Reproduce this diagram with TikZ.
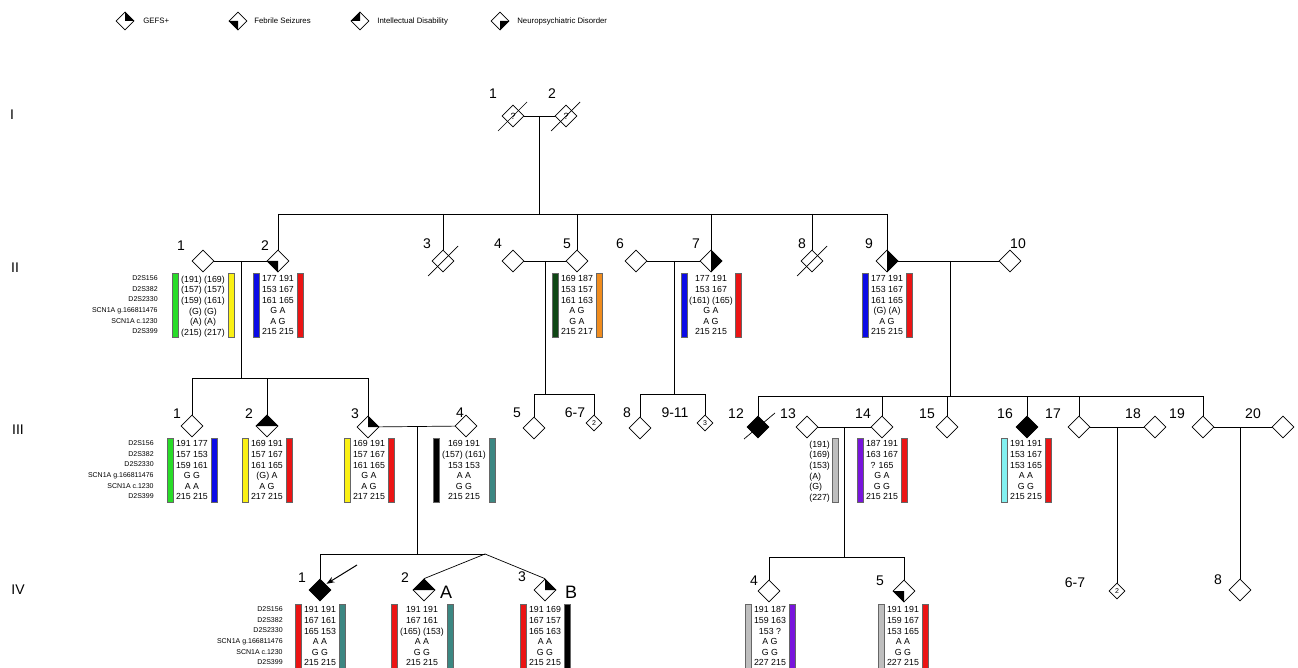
\documentclass[tikz,border=0pt]{standalone}
\usepackage{fontspec}
\setmainfont{Liberation Sans}
\usepackage{tikz}
\usetikzlibrary{shapes.geometric,arrows.meta,calc}

\definecolor{bgreen}{RGB}{40,220,40}
\definecolor{byellow}{RGB}{250,240,20}
\definecolor{bblue}{RGB}{10,10,230}
\definecolor{bred}{RGB}{235,20,20}
\definecolor{bdgreen}{RGB}{15,70,20}
\definecolor{borange}{RGB}{240,140,30}
\definecolor{bteal}{RGB}{60,135,130}
\definecolor{bgray}{RGB}{190,190,190}
\definecolor{bpurple}{RGB}{120,20,220}
\definecolor{bcyan}{RGB}{130,240,240}

\tikzset{
  ind/.style={draw, diamond, shape aspect=1, minimum size=22pt, inner sep=0pt, line width=0.7pt, fill=white},
  sml/.style={ind, minimum size=16pt, font=\fontsize{7}{8}\selectfont},
  leg/.style={ind, minimum size=18pt},
  aff/.style={fill=black},
  num/.style={font=\fontsize{14}{16}\selectfont, inner sep=0pt},
  gen/.style={font=\fontsize{14}{16}\selectfont, inner sep=0pt},
  legtxt/.style={font=\fontsize{7.8}{9}\selectfont, inner sep=0pt, anchor=west},
  hap/.style={font=\fontsize{8.8}{10.6}\selectfont, inner sep=0pt, anchor=north, align=center},
  mrk/.style={font=\fontsize{7}{10.6}\selectfont, inner sep=0pt, anchor=north east, align=right},
  bar/.style={draw=black!60, line width=0.3pt},
  dead/.style={line width=0.7pt}
}

% quadrant fills of a diamond: upper right, lower left, upper left, lower right
\newcommand{\gefs}[1]{\fill (#1.north) -- (#1.east) -- (#1.center) -- cycle;}
\newcommand{\febs}[1]{\fill (#1.south) -- (#1.west) -- (#1.center) -- cycle;}
\newcommand{\intd}[1]{\fill (#1.north) -- (#1.west) -- (#1.center) -- cycle;}
\newcommand{\neud}[1]{\fill (#1.south) -- (#1.east) -- (#1.center) -- cycle;}

% name, x, top, half width, left colour, right colour, rows
\newcommand{\hapl}[7]{%
  \filldraw[bar, fill=#5] (#2-#4-3.25,#3) rectangle (#2-#4+3.25,#3+64);
  \filldraw[bar, fill=#6] (#2+#4-3.25,#3) rectangle (#2+#4+3.25,#3+64);
  \node[hap] (#1) at (#2,#3+2.5) {#7};
}
\newcommand{\mrknames}{D2S156\\D2S382\\D2S2330\\SCN1A g.166811476\\SCN1A c.1230\\D2S399}

\begin{document}
\begin{tikzpicture}[x=1pt,y=-1pt,line width=0.7pt]
\useasboundingbox[fill=white] (0,0) rectangle (1298,668);

% legend
\node[leg] (lg1) at (125,21) {};
\node[legtxt] (lt1) at (143,21) {GEFS+};
\node[leg] (lg2) at (238,21) {};
\node[legtxt] (lt2) at (254,21) {Febrile Seizures};
\node[leg] (lg3) at (360,21) {};
\node[legtxt] (lt3) at (377,21) {Intellectual Disability};
\node[leg] (lg4) at (500,21) {};
\node[legtxt] (lt4) at (517,21) {Neuropsychiatric Disorder};
\gefs{lg1}
\febs{lg2}
\intd{lg3}
\neud{lg4}

% generations
\node[gen] (gI) at (12,115) {I};
\node[gen] (gII) at (15,268) {II};
\node[gen] (gIII) at (18,430) {III};
\node[gen] (gIV) at (18,590) {IV};

% generation I
\node[ind, font=\fontsize{9}{10}\selectfont] (I1) at (513,116) {?};
\node[ind, font=\fontsize{9}{10}\selectfont] (I2) at (566,116) {?};
\node[num] (nI1) at (493,94) {1};
\node[num] (nI2) at (552,94) {2};
\draw[dead] ([shift={(-15,15)}]I1.center) -- ([shift={(14,-14)}]I1.center);
\draw[dead] ([shift={(-15,15)}]I2.center) -- ([shift={(14,-14)}]I2.center);
\draw (I1) -- (I2);
\coordinate (mI) at (539,116);
\coordinate (sII) at (539,214);
\draw (mI) -- (sII);

% generation II
\node[ind] (II1) at (203,261) {};
\node[ind] (II2) at (278,261) {};
\node[ind] (II3) at (443,261) {};
\node[ind] (II4) at (513,261) {};
\node[ind] (II5) at (577,261) {};
\node[ind] (II6) at (636,261) {};
\node[ind] (II7) at (711,261) {};
\node[ind] (II8) at (812,261) {};
\node[ind] (II9) at (887,261) {};
\node[ind] (II10) at (1010,261) {};
\febs{II2}
\gefs{II7}
\neud{II7}
\gefs{II9}
\neud{II9}
\draw[dead] ([shift={(-15,15)}]II3.center) -- ([shift={(15,-15)}]II3.center);
\draw[dead] ([shift={(-15,15)}]II8.center) -- ([shift={(15,-15)}]II8.center);
\node[num] (nII1) at (181,246) {1};
\node[num] (nII2) at (265,246) {2};
\node[num] (nII3) at (427,244) {3};
\node[num] (nII4) at (498,244) {4};
\node[num] (nII5) at (567,244) {5};
\node[num] (nII6) at (620,244) {6};
\node[num] (nII7) at (696,244) {7};
\node[num] (nII8) at (802,244) {8};
\node[num] (nII9) at (869,244) {9};
\node[num] (nII10) at (1018,244) {10};

\draw (II2 |- sII) -- (II9 |- sII);
\draw (II2 |- sII) -- (II2);
\draw (II3 |- sII) -- (II3);
\draw (II5 |- sII) -- (II5);
\draw (II7 |- sII) -- (II7);
\draw (II8 |- sII) -- (II8);
\draw (II9 |- sII) -- (II9);
\draw (II1) -- (II2);
\draw (II4) -- (II5);
\draw (II6) -- (II7);
\draw (II9) -- (II10);

\node[mrk] (mk1) at (158,275.5) {\mrknames};
\hapl{hII1}{203}{273}{28}{bgreen}{byellow}{(191) (169)\\(157) (157)\\(159) (161)\\(G) (G)\\(A) (A)\\(215) (217)}
\hapl{hII2}{278}{273}{22}{bblue}{bred}{177 191\\153 167\\161 165\\G A\\A G\\215 215}
\hapl{hII5}{577}{273}{22}{bdgreen}{borange}{169 187\\153 157\\161 163\\A G\\G A\\215 217}
\hapl{hII7}{711}{273}{27}{bblue}{bred}{177 191\\153 167\\(161) (165)\\G A\\A G\\215 215}
\hapl{hII9}{887}{273}{22}{bblue}{bred}{177 191\\153 167\\161 165\\(G) (A)\\A G\\215 215}

% generation III
\coordinate (mIIa) at (241,261);
\coordinate (sIIIa) at (241,378);
\coordinate (mIIb) at (545,261);
\coordinate (sIIIb) at (545,394);
\coordinate (mIIc) at (674,261);
\coordinate (sIIIc) at (674,394);
\coordinate (mIId) at (950,261);
\coordinate (sIIId) at (950,396);
\draw (mIIa) -- (sIIIa);
\draw (mIIb) -- (sIIIb);
\draw (mIIc) -- (sIIIc);
\draw (mIId) -- (sIIId);

\node[ind] (III1) at (192,426) {};
\node[ind] (III2) at (267,426) {};
\node[ind] (III3) at (368,427) {};
\node[ind] (III4) at (466,426) {};
\node[ind] (III5) at (534,428) {};
\node[sml] (III67) at (594,423) {2};
\node[ind] (III8) at (640,428) {};
\node[sml] (III911) at (705,423) {3};
\node[ind, aff] (III12) at (758,427) {};
\node[ind] (III13) at (807,427) {};
\node[ind] (III14) at (882,427) {};
\node[ind] (III15) at (947,427) {};
\node[ind, aff] (III16) at (1027,427) {};
\node[ind] (III17) at (1079,427) {};
\node[ind] (III18) at (1155,427) {};
\node[ind] (III19) at (1203,427) {};
\node[ind] (III20) at (1283,427) {};
\gefs{III2}
\intd{III2}
\gefs{III3}
\draw[dead] ([shift={(-14,12)}]III12.center) -- ([shift={(17,-14)}]III12.center);

\node[num] (nIII1) at (177,414) {1};
\node[num] (nIII2) at (249,414) {2};
\node[num] (nIII3) at (355,414) {3};
\node[num] (nIII4) at (460,413) {4};
\node[num] (nIII5) at (517,413) {5};
\node[num] (nIII67) at (575,413) {6-7};
\node[num] (nIII8) at (627,413) {8};
\node[num] (nIII911) at (675,413) {9-11};
\node[num] (nIII12) at (736,414) {12};
\node[num] (nIII13) at (788,414) {13};
\node[num] (nIII14) at (863,414) {14};
\node[num] (nIII15) at (927,414) {15};
\node[num] (nIII16) at (1005,414) {16};
\node[num] (nIII17) at (1053,414) {17};
\node[num] (nIII18) at (1133,414) {18};
\node[num] (nIII19) at (1177,414) {19};
\node[num] (nIII20) at (1253,414) {20};

\draw (III1 |- sIIIa) -- (III3 |- sIIIa);
\draw (III1 |- sIIIa) -- (III1);
\draw (III2 |- sIIIa) -- (III2);
\draw (III3 |- sIIIa) -- (III3);
\draw (III5 |- sIIIb) -- (III67 |- sIIIb);
\draw (III5 |- sIIIb) -- (III5);
\draw (III67 |- sIIIb) -- (III67);
\draw (III8 |- sIIIc) -- (III911 |- sIIIc);
\draw (III8 |- sIIIc) -- (III8);
\draw (III911 |- sIIIc) -- (III911);
\draw (III12 |- sIIId) -- (III19 |- sIIId);
\draw (III12 |- sIIId) -- (III12);
\draw (III14 |- sIIId) -- (III14);
\draw (III15 |- sIIId) -- (III15);
\draw (III16 |- sIIId) -- (III16);
\draw (III17 |- sIIId) -- (III17);
\draw (III19 |- sIIId) -- (III19);
\draw (III3) -- (III4);
\draw (III13) -- (III14);
\draw (III17) -- (III18);
\draw (III19) -- (III20);

\node[mrk] (mk2) at (154,440.5) {\mrknames};
\hapl{hIII1}{192}{438}{22}{bgreen}{bblue}{191 177\\157 153\\159 161\\G G\\A A\\215 215}
\hapl{hIII2}{267}{438}{22}{byellow}{bred}{169 191\\157 167\\161 165\\(G) A\\A G\\217 215}
\hapl{hIII3}{369}{438}{22}{byellow}{bred}{169 191\\157 167\\161 165\\G A\\A G\\217 215}
\hapl{hIII4}{464}{438}{28}{black}{bteal}{169 191\\(157) (161)\\153 153\\A A\\G G\\215 215}
\filldraw[bar, fill=bgray] (831.75,438) rectangle (838.25,502);
\node[hap, align=left, anchor=north west] (hIII13) at (809,440.5) {(191)\\(169)\\(153)\\(A)\\(G)\\(227)};
\hapl{hIII14}{882}{438}{22}{bpurple}{bred}{187 191\\163 167\\? 165\\G A\\G G\\215 215}
\hapl{hIII16}{1026}{438}{22}{bcyan}{bred}{191 191\\153 167\\153 165\\A A\\G G\\215 215}

% generation IV
\coordinate (mIIIa) at (417,427);
\coordinate (sIVa) at (417,554);
\coordinate (tw) at (485,554);
\coordinate (mIIIb) at (844,427);
\coordinate (sIVb) at (844,557);
\coordinate (mIIIc) at (1117,427);
\coordinate (mIIId) at (1240,427);
\coordinate (arr) at (357,565);

\node[ind, aff] (IV1) at (320,590) {};
\node[ind] (IV2) at (424,590) {};
\node[ind] (IV3) at (545,590) {};
\node[ind] (IV4) at (769,591) {};
\node[ind] (IV5) at (904,591) {};
\node[sml] (IV67) at (1117,591) {2};
\node[ind] (IV8) at (1240,590) {};
\gefs{IV2}
\intd{IV2}
\gefs{IV3}
\febs{IV5}

\node[num] (nIV1) at (302,578) {1};
\node[num] (nIV2) at (405,578) {2};
\node[num] (nIV3) at (522,577) {3};
\node[num] (nIV4) at (754,581) {4};
\node[num] (nIV5) at (880,581) {5};
\node[num] (nIV67) at (1075,583) {6-7};
\node[num] (nIV8) at (1218,580) {8};
\node[num, font=\fontsize{18}{20}\selectfont] (tA) at (446,592) {A};
\node[num, font=\fontsize{18}{20}\selectfont] (tB) at (571,592) {B};

\draw (mIIIa) -- (sIVa);
\draw (IV1 |- sIVa) -- (tw);
\draw (IV1 |- sIVa) -- (IV1);
\draw (tw) -- (IV2.north);
\draw (tw) -- (IV3.north);
\draw (mIIIb) -- (sIVb);
\draw (IV4 |- sIVb) -- (IV5 |- sIVb);
\draw (IV4 |- sIVb) -- (IV4);
\draw (IV5 |- sIVb) -- (IV5);
\draw (mIIIc) -- (IV67);
\draw (mIIId) -- (IV8);
\draw[-{Stealth[length=8pt,width=6pt]}, line width=1pt, shorten >=1pt] (arr) -- (IV1.north east);

\node[mrk] (mk3) at (283,606.5) {\mrknames};
\hapl{hIV1}{320}{604}{22}{bred}{bteal}{191 191\\167 161\\165 153\\A A\\G G\\215 215}
\hapl{hIV2}{422}{604}{28}{bred}{bteal}{191 191\\167 161\\(165) (153)\\A A\\G G\\215 215}
\hapl{hIV3}{545}{604}{22}{bred}{black}{191 169\\167 157\\165 163\\A A\\G G\\215 215}
\hapl{hIV4}{770}{604}{22}{bgray}{bpurple}{191 187\\159 163\\153 ?\\A G\\G G\\227 215}
\hapl{hIV5}{903}{604}{22}{bgray}{bred}{191 191\\159 167\\153 165\\A A\\G G\\227 215}

\end{tikzpicture}
\end{document}
